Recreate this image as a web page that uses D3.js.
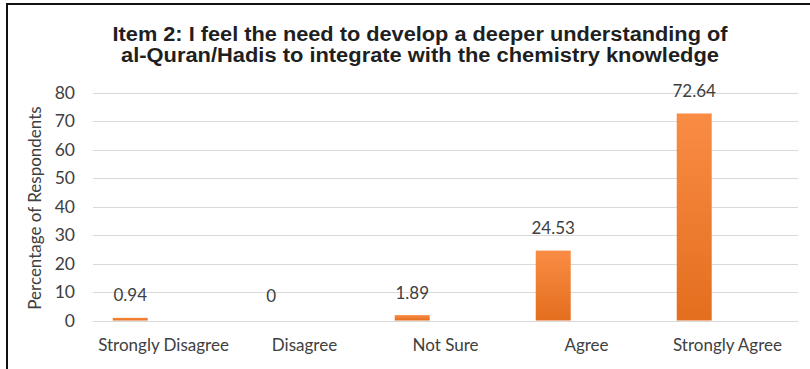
<!DOCTYPE html>
<html>
<head>
<meta charset="utf-8">
<script src="https://cdn.jsdelivr.net/npm/d3@7"></script>
<style>
  body { margin: 0; background: #fff; }
  svg { display: block; }
  .tick text, .cat, .val, .ylab { font-family: Lato, "Open Sans", sans-serif; fill: #404040; }
</style>
</head>
<body>
<svg width="810" height="369"></svg>
<script>
// chart data
var categories = ['Strongly Disagree', 'Disagree', 'Not Sure', 'Agree', 'Strongly Agree'];
var values = [0.94, 0, 1.89, 24.53, 72.64];
var valueLabels = ['0.94', '0', '1.89', '24.53', '72.64'];
var yTicks = [0, 10, 20, 30, 40, 50, 60, 70, 80];
var titleLines = ['Item 2: I feel the need to develop a deeper understanding of',
                  'al-Quran/Hadis to integrate with the chemistry knowledge'];
var yTitle = 'Percentage of Respondents';

var width = 810;
var height = 369;
var margin = {left: 93, right: 12, top: 92.5, bottom: 48.5};

window.onload = function(){
  var svg = d3.select('svg');

  // frame (only top and left edges visible in the crop)
  svg.append('path')
      .attr('d', 'M7,' + height + 'V4H' + width)
      .attr('fill', 'none')
      .attr('stroke', '#111')
      .attr('stroke-width', 2);

  var defs = svg.append('defs');
  var grad = defs.append('linearGradient')
      .attr('id', 'barGrad')
      .attr('x1', 0).attr('y1', 0).attr('x2', 0).attr('y2', 1);
  grad.append('stop').attr('offset', '0%').attr('stop-color', '#f98c44');
  grad.append('stop').attr('offset', '100%').attr('stop-color', '#e46e1e');

  var x = d3.scaleBand()
      .domain(categories)
      .range([margin.left, width - margin.right])
      .padding(0);

  var y = d3.scaleLinear()
      .domain([0, 80])
      .range([height - margin.bottom, margin.top]);

  // gridlines
  svg.append('g')
      .selectAll('line').data(yTicks)
      .enter()
        .append('line')
        .attr('x1', margin.left)
        .attr('x2', width - margin.right)
        .attr('y1', function(d){ return Math.round(y(d)) + 0.5; })
        .attr('y2', function(d){ return Math.round(y(d)) + 0.5; })
        .attr('stroke', '#d9d9d9')
        .attr('stroke-width', 1);

  // y axis labels
  var yAxis = d3.axisLeft(y).tickValues(yTicks).tickSize(0).tickPadding(0);
  var yg = svg.append('g')
      .attr('transform', 'translate(75,0)')
      .call(yAxis);
  yg.select('.domain').remove();
  yg.selectAll('text')
      .attr('font-size', 17.5)
      .attr('dy', '0.34em');

  // bars, sitting left of each category centre
  var barOffset = x.bandwidth() * 0.14;
  var barWidth = x.bandwidth() * 0.248;

  svg.append('g')
      .selectAll('rect').data(values)
      .enter()
        .append('rect')
        .attr('x', function(d, i){ return x(categories[i]) + barOffset; })
        .attr('y', function(d){ return y(d); })
        .attr('width', barWidth)
        .attr('height', function(d){ return y(0) - y(d); })
        .attr('fill', 'url(#barGrad)');

  // value labels
  svg.append('g')
      .selectAll('text').data(values)
      .enter()
        .append('text')
        .attr('class', 'val')
        .attr('x', function(d, i){ return x(categories[i]) + barOffset + barWidth / 2; })
        .attr('y', function(d){ return Math.min(y(d) - 16.5, 301.5); })
        .attr('text-anchor', 'middle')
        .attr('font-size', 17)
        .text(function(d, i){ return valueLabels[i]; });

  // category labels
  var xAxis = d3.axisBottom(x).tickSize(0).tickPadding(0);
  var xg = svg.append('g')
      .attr('transform', 'translate(0,' + (height - margin.bottom) + ')')
      .call(xAxis);
  xg.select('.domain').remove();
  xg.selectAll('text')
      .attr('class', 'cat')
      .attr('font-size', 17)
      .attr('y', 30.5)
      .attr('dy', 0);

  // y title
  svg.append('text')
      .attr('class', 'ylab')
      .attr('transform', 'translate(41,208) rotate(-90)')
      .attr('text-anchor', 'middle')
      .attr('font-size', 17)
      .text(yTitle);

  // chart title
  svg.append('g')
      .selectAll('text').data(titleLines)
      .enter()
        .append('text')
        .attr('x', 420)
        .attr('y', function(d, i){ return 41 + i * 21; })
        .attr('text-anchor', 'middle')
        .attr('font-family', 'Liberation Sans, Arial, sans-serif')
        .attr('font-weight', 'bold')
        .attr('font-size', 19.5)
        .attr('fill', '#1f1f1f')
        .attr('textLength', function(d, i){ return i === 0 ? 615 : 598; })
        .attr('lengthAdjust', 'spacingAndGlyphs')
        .text(function(d){ return d; });
}
</script>
</body>
</html>
